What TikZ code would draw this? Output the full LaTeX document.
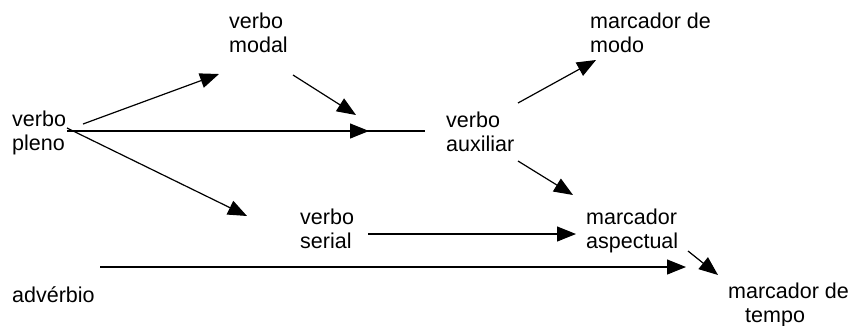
\documentclass[tikz,border=0pt]{standalone}
\usepackage{fontspec}
\setmainfont{Liberation Sans}
\usetikzlibrary{arrows.meta}
\begin{document}
\begin{tikzpicture}[x=1pt,y=-1pt,
  lbl/.style={anchor=base west,inner sep=0pt,align=left,
    font=\fontsize{21.5}{23.5}\selectfont},
  conn/.style={line width=1.2pt,-{Triangle[length=19pt,width=15pt]}},
  plain/.style={line width=1.2pt}]
\useasboundingbox (0,0) rectangle (854,325);

% labels (anchored at the baseline of their last line)
\node[lbl] (modal)  at (229,52)  {verbo\\modal};
\node[lbl] (modo)   at (590,52)  {marcador de\\modo};
\node[lbl] (pleno)  at (12,150)  {verbo\\pleno};
\node[lbl] (aux)    at (446,151) {verbo\\auxiliar};
\node[lbl] (serial) at (300,248) {verbo\\serial};
\node[lbl] (aspec)  at (586,248) {marcador\\aspectual};
\node[lbl] (adv)    at (12,302)  {advérbio};
\node[lbl] (tempo)  at (728,322) {marcador de\\\hspace*{17pt}tempo};

% connector end points
\coordinate (p1) at (83,124);   \coordinate (m1) at (219,74);
\coordinate (m2) at (293,75);   \coordinate (a2) at (356,115);
\coordinate (p3) at (67,131);   \coordinate (a3) at (369,131);
\coordinate (a3e) at (425,131);
\coordinate (p4) at (67,128);   \coordinate (s4) at (247,216);
\coordinate (a5) at (518,103);  \coordinate (o5) at (596,60);
\coordinate (a6) at (518,161);  \coordinate (k6) at (573,195);
\coordinate (s7) at (368,234);  \coordinate (k7) at (576,234);
\coordinate (d8) at (100,267);  \coordinate (t8) at (686,267);
\coordinate (k9) at (688,251);  \coordinate (t9) at (718,275);

% connectors
\draw[conn]  (p1) -- (m1);
\draw[conn]  (m2) -- (a2);
\draw[plain] (p3) -- (a3e);
\draw[conn]  (p3) -- (a3);
\draw[conn]  (p4) -- (s4);
\draw[conn]  (a5) -- (o5);
\draw[conn]  (a6) -- (k6);
\draw[conn]  (s7) -- (k7);
\draw[conn]  (d8) -- (t8);
\draw[conn]  (k9) -- (t9);
\end{tikzpicture}
\end{document}
